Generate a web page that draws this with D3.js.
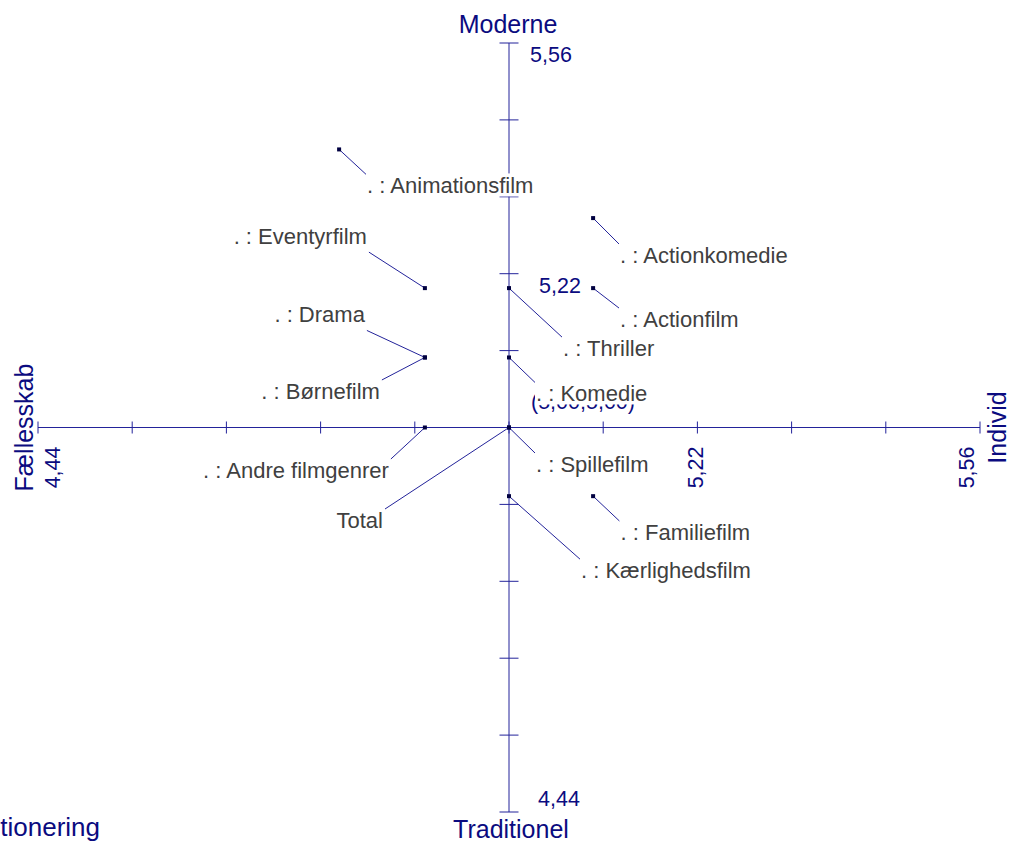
<!DOCTYPE html>
<html>
<head>
<meta charset="utf-8">
<script src="https://cdn.jsdelivr.net/npm/d3@7/dist/d3.min.js"></script>
<style>
body { margin: 0; background: #fff; }
</style>
</head>
<body>
<div id="chart"></div>
<script>
// genres and their position on the two axes (Individ / Moderne)
var genres = ["Animationsfilm", "Actionkomedie", "Eventyrfilm", "Thriller", "Actionfilm", "Drama", "Børnefilm", "Komedie", "Andre filmgenrer", "Total", "Spillefilm", "Familiefilm", "Kærlighedsfilm"];
var individ = [4.798, 5.10, 4.90, 5.00, 5.10, 4.90, 4.90, 5.00, 4.90, 5.00, 5.00, 5.10, 5.00];
var moderne = [5.405, 5.305, 5.203, 5.203, 5.203, 5.102, 5.102, 5.102, 5.00, 5.00, 5.00, 4.90, 4.90];
var prefix = [". : ", ". : ", ". : ", ". : ", ". : ", ". : ", ". : ", ". : ", ". : ", "", ". : ", ". : ", ". : "];

// axis range and labelled ticks
var axisMin = 4.44, axisMax = 5.56, axisSteps = 10;
var tickLabels = ["4,44", "5,22", "5,56"];
var tickLabelAt = [0, 7, 10];
var originLabel = "(5,00;5,00)";
var axisTitles = { left: "Fællesskab", right: "Individ", top: "Moderne", bottom: "Traditionel" };
var title = "Positionering";

// label placement: offset from point to text anchor, anchor, corner the leader goes to
var labelLayout = [
  [28, 44, "start", "tl"],
  [27, 45, "start", "tl"],
  [-58, -44, "end", "br"],
  [54, 68, "start", "tl"],
  [27, 39, "start", "tl"],
  [-60, -35, "end", "br"],
  [-45, 41.5, "end", "tr"],
  [27, 44, "start", "tl"],
  [-36, 50.5, "end", "tr"],
  [-126, 100.5, "end", "tr"],
  [27, 44.5, "start", "tl"],
  [27.5, 44, "start", "tl"],
  [72, 82, "start", "tl"]
];
// offsets of the tick labels, in the order of tickLabels
var xTickOffsets = [[22, 19], [6, 19], [-6, 19]];
var yTickOffsets = [[29, -6], [30, 19], [21, 19]];

var w = 1009, h = 844;
var axisColor = "#23239a", navy = "#0b0b80", labelColor = "#404040";
var font = "'Liberation Sans', Arial, sans-serif";

var svg = d3.select("#chart")
  .append("svg")
  .attr("width", w)
  .attr("height", h)
  .style("display", "block");

var x = d3.scaleLinear().domain([axisMin, axisMax]).range([38, 980]);
var y = d3.scaleLinear().domain([axisMin, axisMax]).range([812, 43]);
var ticks = d3.range(axisSteps + 1).map(function(i) { return axisMin + i * (axisMax - axisMin) / axisSteps; });
var cx = x(5), cy = y(5);

// axis lines
svg.append("line")
  .attr("x1", x(axisMin)).attr("x2", x(axisMax))
  .attr("y1", cy).attr("y2", cy)
  .attr("stroke", axisColor).attr("stroke-width", 1);
svg.append("line")
  .attr("x1", cx).attr("x2", cx)
  .attr("y1", y(axisMin)).attr("y2", y(axisMax))
  .attr("stroke", axisColor).attr("stroke-width", 1);

// tick marks
svg.selectAll(".xtick")
  .data(ticks)
  .enter()
  .append("line")
  .attr("x1", function(d) { return x(d); })
  .attr("x2", function(d) { return x(d); })
  .attr("y1", cy - 6).attr("y2", cy + 6)
  .attr("stroke", axisColor).attr("stroke-width", 1);
svg.selectAll(".ytick")
  .data(ticks)
  .enter()
  .append("line")
  .attr("x1", cx - 9.5).attr("x2", cx + 9.5)
  .attr("y1", function(d) { return y(d); })
  .attr("y2", function(d) { return y(d); })
  .attr("stroke", axisColor).attr("stroke-width", 1);

// tick labels on the horizontal axis (rotated)
tickLabels.forEach(function(t, i) {
  var tx = x(ticks[tickLabelAt[i]]) + xTickOffsets[i][0];
  var ty = cy + xTickOffsets[i][1];
  svg.append("text")
    .attr("transform", "translate(" + tx + "," + ty + ") rotate(-90)")
    .attr("text-anchor", "end")
    .attr("font-family", font)
    .attr("font-size", "21.5px")
    .attr("fill", navy)
    .text(t);
});

// tick labels on the vertical axis
tickLabels.forEach(function(t, i) {
  svg.append("text")
    .attr("x", cx + yTickOffsets[i][0])
    .attr("y", y(ticks[tickLabelAt[i]]) + yTickOffsets[i][1])
    .attr("font-family", font)
    .attr("font-size", "21.5px")
    .attr("fill", navy)
    .text(t);
});

// axis titles
svg.append("text")
  .attr("x", cx - 1).attr("y", y(axisMax) - 10)
  .attr("text-anchor", "middle")
  .attr("font-family", font).attr("font-size", "25px").attr("fill", navy)
  .text(axisTitles.top);
svg.append("text")
  .attr("x", cx + 2).attr("y", y(axisMin) + 26)
  .attr("text-anchor", "middle")
  .attr("font-family", font).attr("font-size", "25px").attr("fill", navy)
  .text(axisTitles.bottom);
svg.append("text")
  .attr("transform", "translate(" + (x(axisMin) - 5) + "," + cy + ") rotate(-90)")
  .attr("text-anchor", "middle")
  .attr("font-family", font).attr("font-size", "25px").attr("fill", navy)
  .text(axisTitles.left);
svg.append("text")
  .attr("transform", "translate(" + (x(axisMax) + 26) + "," + cy + ") rotate(-90)")
  .attr("text-anchor", "middle")
  .attr("font-family", font).attr("font-size", "25px").attr("fill", navy)
  .text(axisTitles.right);

// chart title, cut at the left edge
svg.append("text")
  .attr("x", 100).attr("y", 836)
  .attr("text-anchor", "end")
  .attr("font-family", font).attr("font-size", "26px").attr("fill", navy)
  .text(title);

// origin label
svg.append("text")
  .attr("x", cx + 22).attr("y", cy - 19)
  .attr("font-family", font).attr("font-size", "21.5px").attr("fill", navy)
  .text(originLabel);

var data = genres.map(function(g, i) {
  return { name: g, text: prefix[i] + g, x: individ[i], y: moderne[i], lay: labelLayout[i] };
});

// labels first to measure them, then leaders underneath
var labels = svg.append("g");
var leaders = svg.insert("g", "g");

data.forEach(function(d) {
  var px = x(d.x), py = y(d.y);
  var tx = px + d.lay[0], ty = py + d.lay[1];
  var g = labels.append("g");
  var bg = g.append("rect").attr("fill", "#fff");
  var t = g.append("text")
    .attr("x", tx).attr("y", ty)
    .attr("text-anchor", d.lay[2])
    .attr("font-family", font)
    .attr("font-size", "22px")
    .attr("fill", labelColor)
    .text(d.text);
  var len = t.node().getComputedTextLength();
  var x0 = d.lay[2] == "end" ? tx - len : tx;
  var x1 = x0 + len;
  bg.attr("x", x0 - 1).attr("y", ty - 20)
    .attr("width", len + 2).attr("height", 23);
  var ex, ey;
  if (d.lay[3] == "tl") { ex = x0 - 1; ey = ty - 19; }
  if (d.lay[3] == "tr") { ex = x1 + 2; ey = ty - 19; }
  if (d.lay[3] == "br") { ex = x1 + 2; ey = ty + 8; }
  leaders.append("line")
    .attr("x1", px).attr("y1", py)
    .attr("x2", ex).attr("y2", ey)
    .attr("stroke", axisColor).attr("stroke-width", 1);
});

// point markers
svg.selectAll(".pt")
  .data(data)
  .enter()
  .append("rect")
  .attr("x", function(d) { return x(d.x) - 2; })
  .attr("y", function(d) { return y(d.y) - 2; })
  .attr("width", 4).attr("height", 4)
  .attr("fill", "#000040");
</script>
</body>
</html>
